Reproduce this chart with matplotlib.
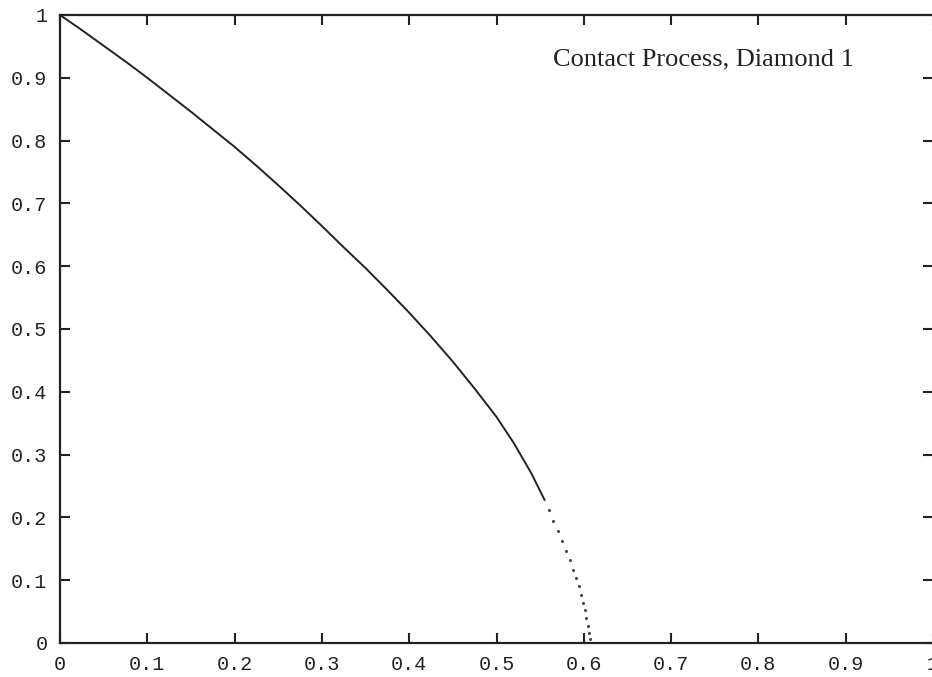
import matplotlib
matplotlib.use("Agg")
from matplotlib import pyplot as plt

# smooth part of the curve
curve_x = [0.0, 0.025, 0.05, 0.075, 0.1, 0.125, 0.15, 0.175, 0.2, 0.225, 0.25,
           0.275, 0.3, 0.325, 0.35, 0.375, 0.4, 0.425, 0.45, 0.475, 0.5, 0.52,
           0.54, 0.555]
curve_y = [1.0, 0.976, 0.951, 0.926, 0.900, 0.873, 0.846, 0.818, 0.790, 0.760,
           0.729, 0.697, 0.664, 0.630, 0.597, 0.562, 0.526, 0.488, 0.448, 0.405,
           0.360, 0.318, 0.270, 0.228]

# sparse dots near the critical point
tail_x = [0.56, 0.565, 0.57, 0.575, 0.58, 0.584, 0.588, 0.591, 0.594, 0.597,
          0.599, 0.601, 0.603, 0.605, 0.606, 0.607]
tail_y = [0.212, 0.195, 0.179, 0.163, 0.146, 0.132, 0.117, 0.104, 0.09, 0.076,
          0.064, 0.052, 0.04, 0.027, 0.016, 0.006]

ticks = [0, 0.1, 0.2, 0.3, 0.4, 0.5, 0.6, 0.7, 0.8, 0.9, 1]
tick_labels = ["0", "0.1", "0.2", "0.3", "0.4", "0.5", "0.6", "0.7", "0.8", "0.9", "1"]

fig = plt.figure(figsize=(9.32, 6.77), dpi=100)
ax = fig.add_axes([60 / 932, 34 / 677, 873 / 932, 628 / 677])

ax.plot(curve_x, curve_y, color="#222222", lw=1.4)
ax.plot(tail_x, tail_y, ls="none", marker="o", ms=1.2, color="#444444")

ax.set_xlim(0, 1)
ax.set_ylim(0, 1)
ax.set_xticks(ticks)
ax.set_yticks(ticks)
ax.set_xticklabels(tick_labels, family="Liberation Mono", fontsize=14.5)
ax.set_yticklabels(tick_labels, family="Liberation Mono", fontsize=14.5)
ax.tick_params(direction="in", length=7, width=1.5, top=True, right=True,
               pad=9, colors="#222222")

for s in ax.spines.values():
    s.set_linewidth(1.6)
    s.set_color("#222222")

ax.text(0.565, 0.92, "Contact Process, Diamond 1", transform=ax.transAxes,
        family="Liberation Serif", fontsize=19, va="baseline", color="#222222")

fig.savefig("out.png", dpi=100)
